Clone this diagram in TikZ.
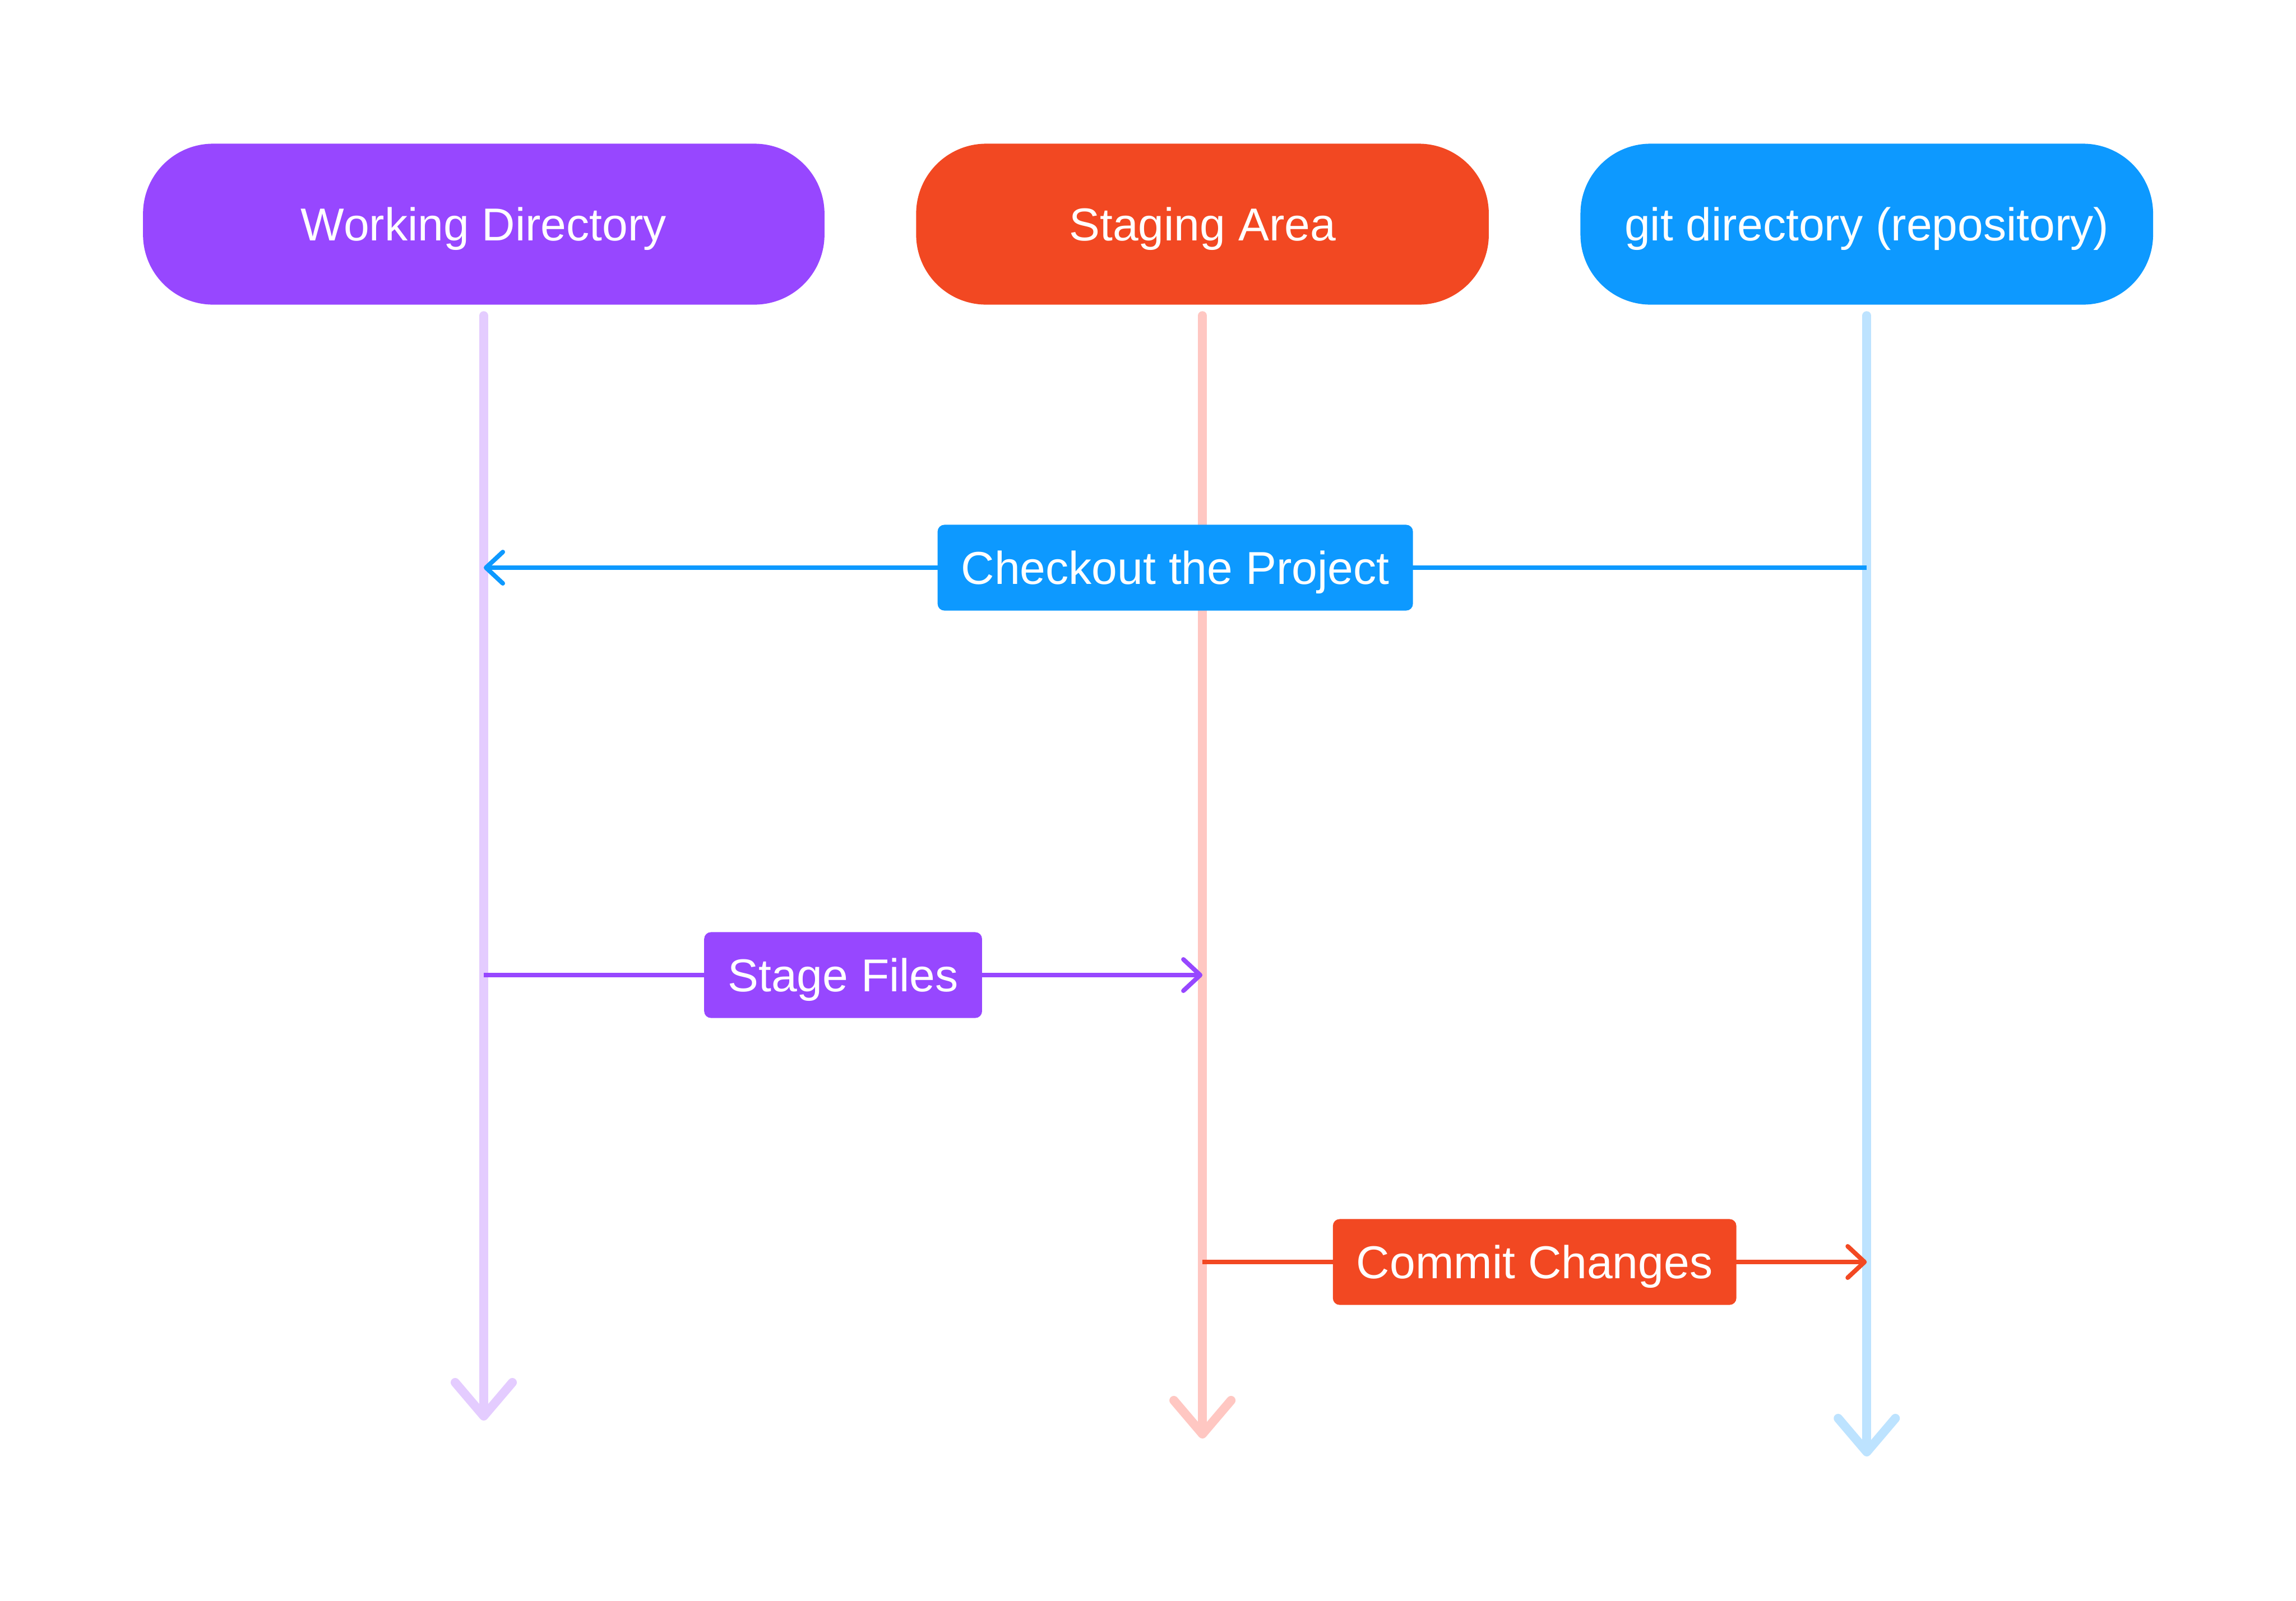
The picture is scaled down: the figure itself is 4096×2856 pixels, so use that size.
\documentclass[tikz,border=0pt]{standalone}
\usepackage{fontspec}
\setmainfont{Liberation Sans}
\usetikzlibrary{positioning, arrows.meta}

\definecolor{wdpurple}{HTML}{9747FF}
\definecolor{sared}{HTML}{F24822}
\definecolor{gdblue}{HTML}{0D99FF}
\definecolor{wdlight}{HTML}{E4CCFF}
\definecolor{salight}{HTML}{FFC7C2}
\definecolor{gdlight}{HTML}{BDE3FF}

\begin{document}
\begin{tikzpicture}[
        x = 0.01cm, y = -0.01cm,
     node distance = 1.62cm and 1.62cm,
       lane/.style = {rectangle, rounded corners=1.25cm, draw=none, fill=#1,
                     text=white, minimum height=2.87cm,
                     text height=16.75pt, text depth=0pt,
                     font=\fontsize{23.4}{28}\selectfont},
        tag/.style = {rectangle, rounded corners=1.2mm, draw=none, fill=#1,
                     text=white, minimum height=1.53cm, inner xsep=0.42cm,
                     text height=16.75pt, text depth=0pt,
                     font=\fontsize{23.4}{28}\selectfont},
       life/.style = {draw=#1, line width=0.16cm, line cap=round,
                     -{Straight Barb[length=0.6cm, width=1.02cm, round]}},
        msg/.style = {draw=#1, line width=0.08cm,
                     -{Straight Barb[length=0.3cm, width=0.56cm, round]}}
                        ]
\useasboundingbox (0,0) rectangle (4096,2856);
% lanes
\node (wd) [lane=wdpurple, minimum width=12.15cm] at (863,400) {Working Directory};
\node (sa) [lane=sared, minimum width=10.21cm, right=of wd] {Staging Area};
\node (gd) [lane=gdblue, minimum width=10.21cm, right=of sa] {git directory (repository)};
% lifelines
\coordinate (wd-top) at ([yshift=-0.19cm]wd.south);
\coordinate (sa-top) at ([yshift=-0.19cm]sa.south);
\coordinate (gd-top) at ([yshift=-0.19cm]gd.south);
\coordinate (wd-end) at (wd.south |- 0,2535);
\coordinate (sa-end) at (sa.south |- 0,2567);
\coordinate (gd-end) at (gd.south |- 0,2599);
\draw[life=wdlight] (wd-top) -- (wd-end);
\draw[life=salight] (sa-top) -- (sa-end);
\draw[life=gdlight] (gd-top) -- (gd-end);
% messages
\coordinate (co-from) at (gd.south |- 0,1013);
\coordinate (co-to) at (wd.south |- 0,1013);
\coordinate (sf-from) at (wd.south |- 0,1740);
\coordinate (sf-to) at (sa.south |- 0,1740);
\coordinate (cc-from) at (sa.south |- 0,2252);
\coordinate (cc-to) at (gd.south |- 0,2252);
\draw[msg=gdblue] (co-from) -- node[tag=gdblue] (co) {Checkout the Project} (co-to);
\draw[msg=wdpurple] (sf-from) -- node[tag=wdpurple] (sf) {Stage Files} (sf-to);
\draw[msg=sared] (cc-from) -- node[tag=sared] (cc) {Commit Changes} (cc-to);
\end{tikzpicture}
\end{document}
